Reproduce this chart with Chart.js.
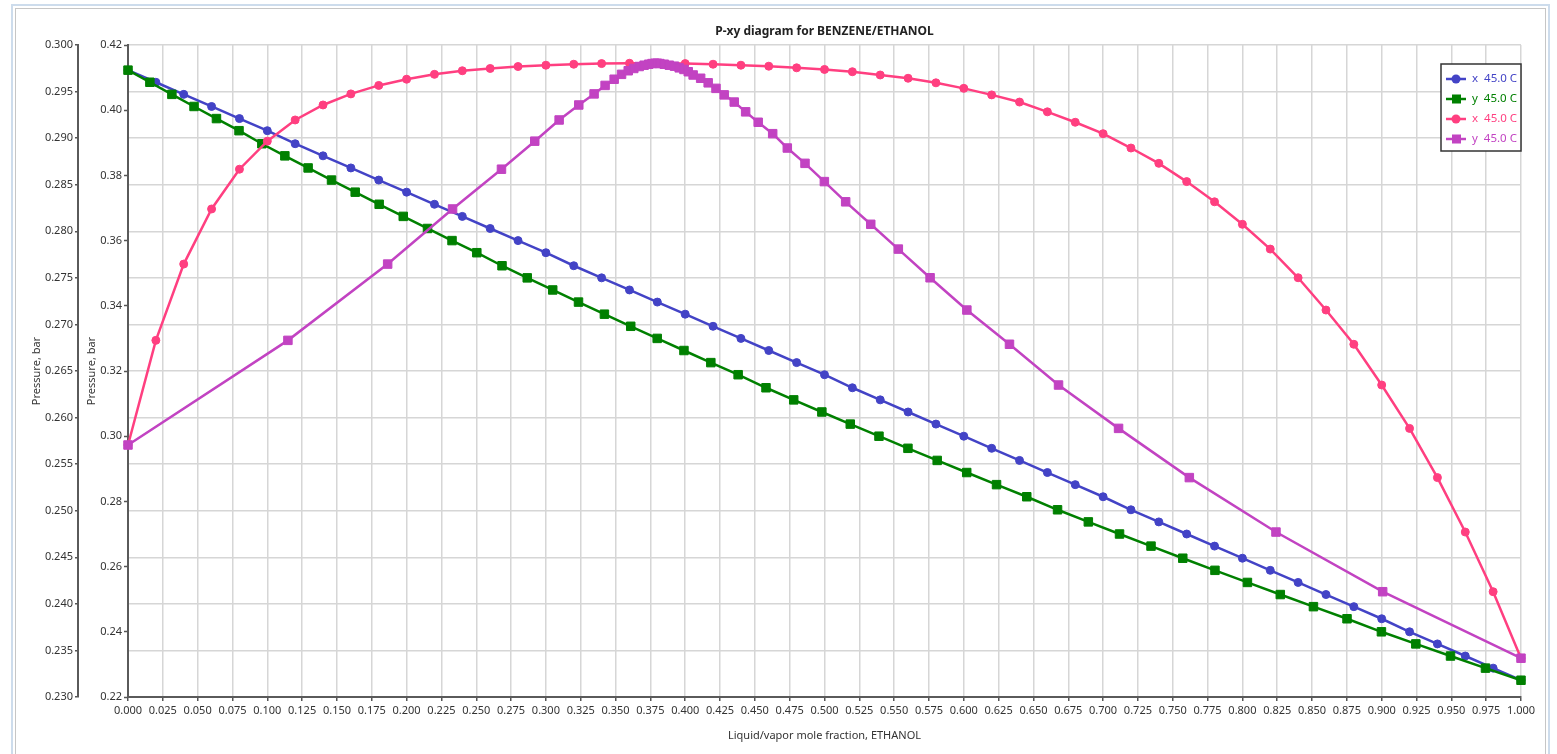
<!DOCTYPE html>
<html>
<head>
<meta charset="utf-8">
<title>P-xy diagram for BENZENE/ETHANOL</title>
<script src="https://cdn.jsdelivr.net/npm/chart.js@4.4.1/dist/chart.umd.min.js"></script>
<style>
  html, body { margin: 0; padding: 0; background: #fff; overflow: hidden; }
  #frame { position: absolute; left: 11px; top: 4px; width: 1535px; height: 752px; border: 2px solid #cddcec; border-bottom: none; }
  #inner { position: absolute; left: 15px; top: 8px; width: 1529px; height: 750px; border: 1px solid #c6c6c6; border-bottom: none; }
  #wrap { position: absolute; left: 0; top: 0; width: 1557px; height: 754px; }
</style>
</head>
<body>
<div id="frame"></div>
<div id="inner"></div>
<div id="wrap"><canvas id="pxy" width="1557" height="754"></canvas></div>
<script>
// liquid mole fraction of ethanol (same grid for both models)
const liquidX = [
  0.00, 0.02, 0.04, 0.06, 0.08, 0.10, 0.12, 0.14, 0.16, 0.18,
  0.20, 0.22, 0.24, 0.26, 0.28, 0.30, 0.32, 0.34, 0.36, 0.38,
  0.40, 0.42, 0.44, 0.46, 0.48, 0.50, 0.52, 0.54, 0.56, 0.58,
  0.60, 0.62, 0.64, 0.66, 0.68, 0.70, 0.72, 0.74, 0.76, 0.78,
  0.80, 0.82, 0.84, 0.86, 0.88, 0.90, 0.92, 0.94, 0.96, 0.98, 1.00
];

// first model (outer axis 0.230 - 0.300 bar)
const idealP = [
  0.2973, 0.2960, 0.2947, 0.2934, 0.2921, 0.2908, 0.2894, 0.2881, 0.2868, 0.2855,
  0.2842, 0.2829, 0.2816, 0.2803, 0.2790, 0.2777, 0.2763, 0.2750, 0.2737, 0.2724,
  0.2711, 0.2698, 0.2685, 0.2672, 0.2659, 0.2646, 0.2632, 0.2619, 0.2606, 0.2593,
  0.2580, 0.2567, 0.2554, 0.2541, 0.2528, 0.2515, 0.2501, 0.2488, 0.2475, 0.2462,
  0.2449, 0.2436, 0.2423, 0.2410, 0.2397, 0.2384, 0.2370, 0.2357, 0.2344, 0.2331, 0.2318
];
const idealVapor = [
  0.0000, 0.0157, 0.0315, 0.0474, 0.0635, 0.0797, 0.0961, 0.1126, 0.1293, 0.1461,
  0.1631, 0.1803, 0.1976, 0.2150, 0.2326, 0.2504, 0.2685, 0.2866, 0.3049, 0.3234,
  0.3420, 0.3609, 0.3799, 0.3991, 0.4184, 0.4380, 0.4580, 0.4779, 0.4981, 0.5185,
  0.5391, 0.5599, 0.5809, 0.6021, 0.6235, 0.6452, 0.6673, 0.6894, 0.7118, 0.7344,
  0.7572, 0.7803, 0.8036, 0.8272, 0.8510, 0.8751, 0.8998, 0.9245, 0.9494, 0.9745, 1.0000
];

// second model (inner axis 0.22 - 0.42 bar)
const azeoP = [
  0.2973, 0.3294, 0.3528, 0.3697, 0.3819, 0.3905, 0.3970, 0.4016, 0.4050, 0.4076,
  0.4095, 0.4110, 0.4121, 0.4128, 0.4134, 0.4138, 0.4141, 0.4143, 0.4144, 0.4144,
  0.4143, 0.4141, 0.4138, 0.4135, 0.4130, 0.4125, 0.4118, 0.4108, 0.4098, 0.4084,
  0.4067, 0.4047, 0.4025, 0.3995, 0.3963, 0.3928, 0.3884, 0.3837, 0.3781, 0.3719,
  0.3650, 0.3574, 0.3486, 0.3387, 0.3282, 0.3157, 0.3024, 0.2873, 0.2706, 0.2523, 0.2319
];
const azeoVapor = [
  0.0000, 0.1148, 0.1864, 0.2330, 0.2681, 0.2920, 0.3095, 0.3236, 0.3346, 0.3425,
  0.3490, 0.3543, 0.3591, 0.3631, 0.3670, 0.3705, 0.3738, 0.3762, 0.3783, 0.3800,
  0.3818, 0.3850, 0.3886, 0.3923, 0.3957, 0.3991, 0.4022, 0.4057, 0.4111, 0.4165,
  0.4221, 0.4280, 0.4352, 0.4434, 0.4524, 0.4628, 0.4733, 0.4860, 0.4999, 0.5152,
  0.5332, 0.5530, 0.5758, 0.6022, 0.6328, 0.6680, 0.7111, 0.7619, 0.8241, 0.9007, 1.0000
];

const seriesLabels = ["x  45.0 C", "y  45.0 C", "x  45.0 C", "y  45.0 C"];
const seriesColors = ["#4343c6", "#008000", "#ff3f80", "#c243c2"];
const seriesMarkers = ["circle", "rect", "circle", "rect"];

const toPoints = (xs, ys) => xs.map((v, i) => ({ x: v, y: ys[i] }));

const makeSet = (i, points, axis) => ({
  label: seriesLabels[i],
  data: points,
  yAxisID: axis,
  showLine: true,
  borderColor: seriesColors[i],
  backgroundColor: seriesColors[i],
  borderWidth: 2.5,
  pointStyle: seriesMarkers[i],
  pointRadius: seriesMarkers[i] === "rect" ? 6 : 4,
  pointBorderWidth: 1,
  pointBorderColor: seriesColors[i],
  pointBackgroundColor: seriesColors[i],
  order: 4 - i,
  clip: false,
});

const plotTitle = {
  id: "plotTitle",
  afterDraw(chart) {
    const { ctx, chartArea } = chart;
    ctx.save();
    ctx.font = "bold 12px 'Noto Sans', sans-serif";
    ctx.fillStyle = "#222";
    ctx.textAlign = "center";
    ctx.textBaseline = "middle";
    ctx.fillText("P-xy diagram for BENZENE/ETHANOL", (chartArea.left + chartArea.right) / 2, 32);
    ctx.restore();
  },
};

const boxLegend = {
  id: "boxLegend",
  afterDraw(chart) {
    const { ctx, chartArea } = chart;
    const w = 80, h = 87;
    const left = chartArea.right - w, top = 64;
    ctx.save();
    ctx.fillStyle = "#fff";
    ctx.fillRect(left, top, w, h);
    ctx.strokeStyle = "#333";
    ctx.lineWidth = 1.5;
    ctx.strokeRect(left, top, w, h);
    ctx.font = "11.5px 'Noto Sans', sans-serif";
    ctx.textBaseline = "middle";
    seriesLabels.forEach((label, i) => {
      const y = top + 15 + i * 20;
      const c = seriesColors[i];
      ctx.strokeStyle = c;
      ctx.lineWidth = 2.5;
      ctx.beginPath();
      ctx.moveTo(left + 5, y);
      ctx.lineTo(left + 25, y);
      ctx.stroke();
      ctx.fillStyle = c;
      if (seriesMarkers[i] === "circle") {
        ctx.beginPath();
        ctx.arc(left + 15, y, 4.5, 0, Math.PI * 2);
        ctx.fill();
      } else {
        ctx.fillRect(left + 11, y - 4.5, 9, 9);
      }
      ctx.fillText(label, left + 31, y);
    });
    ctx.restore();
  },
};

Chart.defaults.font.family = "'Noto Sans', sans-serif";
Chart.defaults.color = "#333";

new Chart(document.getElementById("pxy").getContext("2d"), {
  type: "scatter",
  data: {
    datasets: [
      makeSet(0, toPoints(liquidX, idealP), "yOuter"),
      makeSet(1, toPoints(idealVapor, idealP), "yOuter"),
      makeSet(2, toPoints(liquidX, azeoP), "yInner"),
      makeSet(3, toPoints(azeoVapor, azeoP), "yInner"),
    ],
  },
  options: {
    responsive: false,
    animation: false,
    events: [],
    layout: { padding: { left: 0, top: 45, right: 36, bottom: 0 } },
    plugins: { legend: { display: false }, tooltip: { enabled: false }, title: { display: false } },
    scales: {
      x: {
        type: "linear",
        position: "bottom",
        min: 0,
        max: 1,
        ticks: {
          stepSize: 0.025,
          autoSkip: false,
          maxRotation: 0,
          minRotation: 0,
          padding: 3,
          font: { size: 11 },
          callback: (v) => v.toFixed(3),
        },
        grid: { color: "#d6d6d6", lineWidth: 1.5, tickLength: 4, tickColor: "#555", tickWidth: 1.5 },
        border: { color: "#5a5a5a", width: 2 },
        title: {
          display: true,
          text: "Liquid/vapor mole fraction, ETHANOL",
          font: { size: 11 },
          padding: { top: 0, bottom: 12 },
        },
        afterFit: (s) => { s.height = 57; },
      },
      yOuter: {
        type: "linear",
        position: "left",
        weight: 1,
        min: 0.23,
        max: 0.3,
        ticks: { stepSize: 0.005, padding: 2, font: { size: 11 }, callback: (v) => v.toFixed(3) },
        grid: { color: "#d6d6d6", lineWidth: 1.5, tickLength: 3, tickColor: "#555", tickWidth: 1.5 },
        border: { color: "#5a5a5a", width: 2 },
        title: { display: true, text: "Pressure, bar", font: { size: 11 }, padding: { top: 30, bottom: 0 } },
        afterFit: (s) => { s.width = 78; },
      },
      yInner: {
        type: "linear",
        position: "left",
        weight: 0,
        min: 0.22,
        max: 0.42,
        ticks: { stepSize: 0.02, padding: 2, font: { size: 11 }, callback: (v) => v.toFixed(2) },
        grid: { drawOnChartArea: false, tickLength: 4, tickColor: "#555", tickWidth: 1.5 },
        border: { color: "#5a5a5a", width: 2 },
        title: { display: true, text: "Pressure, bar", font: { size: 11 }, padding: { top: 7, bottom: 0 } },
        afterFit: (s) => { s.width = 50; },
      },
    },
  },
  plugins: [plotTitle, boxLegend],
});
</script>
</body>
</html>
